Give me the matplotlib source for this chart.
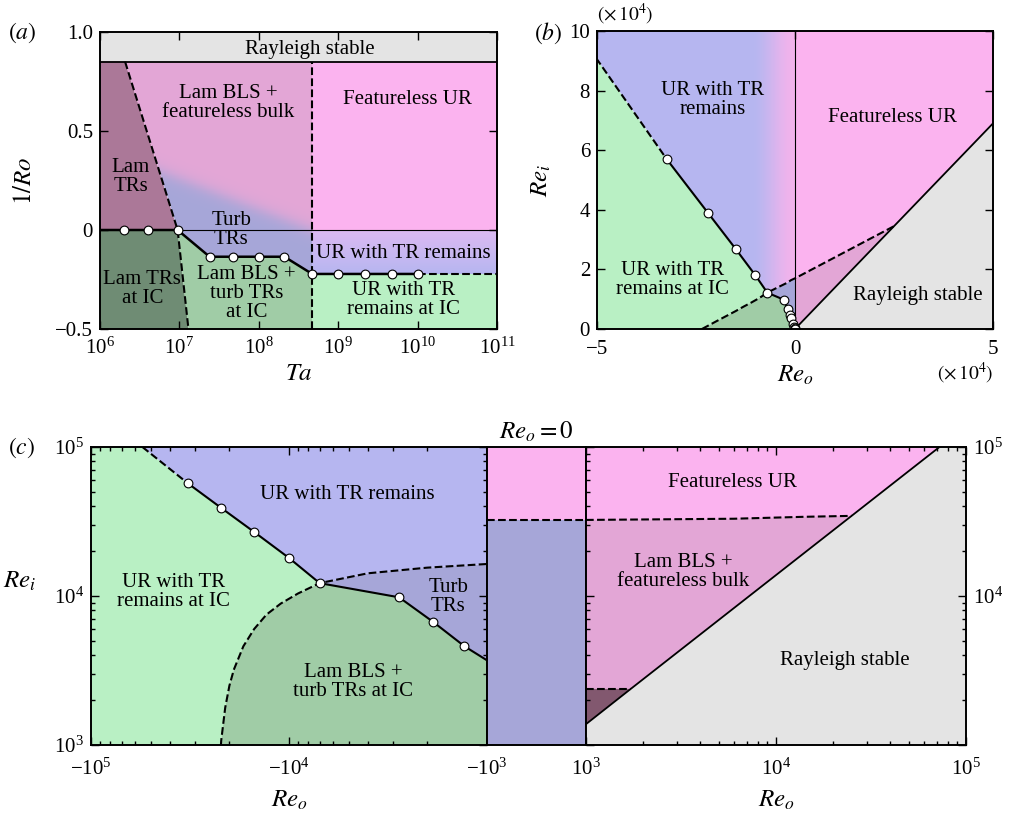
import numpy as np
import matplotlib
matplotlib.use('Agg')
import matplotlib.pyplot as plt
from matplotlib.patches import Polygon
from matplotlib.colors import LinearSegmentedColormap
from matplotlib.ticker import FuncFormatter, NullFormatter, NullLocator, FixedLocator

plt.rcParams['font.family'] = 'serif'
plt.rcParams['font.serif'] = ['Liberation Serif', 'DejaVu Serif']
plt.rcParams['mathtext.fontset'] = 'stix'

# region colours
c_gray = '#e4e4e4'
c_lamtr = '#ab7898'
c_lamtr_c = '#82586f'
c_blsbulk = '#e3a6d6'
c_feat = '#fbb3ef'
c_turb = '#a6a6d8'
c_ur = '#b6b6f0'
c_ur_top = '#dcb9f2'
c_uric = '#b9f0c4'
c_blsic = '#a0cca6'
c_lamic = '#6f8c74'

# ---- (a) Ta vs 1/Ro
ta_lim = [1e6, 1e11]
ro_lim = [-0.5, 1.0]
ro_rayleigh = 0.85
ta_ur = 4.7e8
lam_ta = [2.07e6, 9.5e6, 1.3e7]
lam_ro = [0.85, 0.0, -0.5]
soft_ta = [5.5e6, 4.7e8]      # blurred edge turb TRs / lam BLS
soft_ro = [0.30, 0.0]
ic_ta = [1e6, 2e6, 4e6, 9.5e6, 2.4e7, 4.7e7, 1e8, 2.1e8, 4.7e8, 1e9, 2.2e9, 4.7e9, 1e10]
ic_ro = [0, 0, 0, 0, -0.135, -0.135, -0.135, -0.135, -0.222, -0.222, -0.222, -0.222, -0.222]

# ---- (b), (c) Re_o vs Re_i
b_lim_o = [-5e4, 5e4]
b_lim_i = [0, 1e5]
c_lim = [1e3, 1e5]
tr_re_o = [-5.5e4, -3.24e4, -2.2e4, -1.5e4, -1.0e4, -7.0e3, -2.78e3, -1.87e3, -1.3e3, -1.0e3, -5e2, -2.5e2, -1e2, 0]
tr_re_i = [1.0e5, 5.7e4, 3.9e4, 2.69e4, 1.8e4, 1.22e4, 9.8e3, 6.7e3, 4.6e3, 3.7e3, 1.7e3, 8e2, 3e2, 0]
bls_re_o = [-2.35e4, -2.28e4, -2.2e4, -2.1e4, -2.0e4, -1.9e4, -1.7e4, -1.5e4, -1.3e4, -1.1e4, -9e3, -7e3, -4e3, -2e3, -1e3, 0, 2.5e4]
bls_re_i = [0, 5e2, 1.07e3, 1.78e3, 2.5e3, 3.2e3, 4.6e3, 6.0e3, 7.5e3, 8.9e3, 1.04e4, 1.22e4, 1.42e4, 1.55e4, 1.64e4, 1.7e4, 3.45e4]
ray_re_o = [0, 1e3, 1.72e3, 2.5e4, 5e4, 7.25e4]
ray_re_i = [0, 1.38e3, 2.38e3, 3.45e4, 6.9e4, 1e5]
fb_re_o = [-1e3, 1e3, 6e3, 1.4e4, 2.5e4]
fb_re_i = [3.24e4, 3.24e4, 3.3e4, 3.4e4, 3.45e4]
lt_re_o = [1e3, 1.72e3]
lt_re_i = [2.38e3, 2.38e3]

i_tr = tr_re_o.index(-7e3)
i_trc = tr_re_o.index(-1e3)
i_bls = bls_re_o.index(-7e3)
i_blc = bls_re_o.index(-1e3)
i_bl0 = bls_re_o.index(0)

FS = 15
LW = 1.5
W, H = 1023, 815
fig = plt.figure(figsize=(W / 100, H / 100), dpi=100)


def box(l, t, r, b):
    return [l / W, 1 - b / H, (r - l) / W, (b - t) / H]


def style(ax, xpad=5):
    ax.tick_params(which='both', direction='in', top=True, right=True, width=1, labelsize=FS, pad=5)
    ax.tick_params(axis='x', which='both', pad=xpad)
    ax.tick_params(which='major', length=6)
    ax.tick_params(which='minor', length=3)
    for s in ax.spines.values():
        s.set_linewidth(1.4)
        s.set_zorder(6)


def fill(ax, xs, ys, c):
    ax.fill(xs, ys, facecolor=c, edgecolor='none', lw=0, zorder=1)


def grad(ax, xs, ys, gx, gy, t, c0, c1):
    cmap = LinearSegmentedColormap.from_list('g', [c0, c1])
    m = ax.pcolormesh(gx, gy, t, cmap=cmap, vmin=0, vmax=1, shading='nearest',
                      zorder=1.5, antialiased=False, lw=0)
    p = Polygon(np.column_stack([xs, ys]), closed=True, transform=ax.transData)
    m.set_clip_path(p)


def label(ax, x, y, s):
    ax.text(x, y, s, ha='center', va='center', fontsize=FS, linespacing=1.0, zorder=7)


def dots(ax, xs, ys):
    ax.plot(xs, ys, 'o', ms=6.3, mfc='white', mec='k', mew=0.8, zorder=5, clip_on=True)


# ================= (a)
ax = fig.add_axes(box(100, 32, 497, 329))
ax.set_xscale('log')
fill(ax, [ta_lim[0], ta_lim[1], ta_lim[1], ta_lim[0]], [ro_rayleigh, ro_rayleigh, ro_lim[1], ro_lim[1]], c_gray)
fill(ax, [ta_lim[0], ta_lim[0], lam_ta[0], lam_ta[1]], [0, ro_rayleigh, ro_rayleigh, 0], c_lamtr)
fill(ax, [ta_lim[0]] + lam_ta[1:] + [ta_lim[0]], [0] + lam_ro[1:] + [ro_lim[0]], c_lamic)
fill(ax, ic_ta[3:9] + [ta_ur, lam_ta[2]], ic_ro[3:9] + [ro_lim[0], ro_lim[0]], c_blsic)
fill(ax, [ta_ur, ta_lim[1], ta_lim[1], ta_ur], [ic_ro[-1], ic_ro[-1], ro_lim[0], ro_lim[0]], c_uric)
fill(ax, [ta_ur, ta_lim[1], ta_lim[1], ta_ur], [0, 0, ro_rayleigh, ro_rayleigh], c_feat)

# soft blend between lam BLS + featureless bulk and turb TRs
px_y = 297 / 1.5
gx = np.logspace(6, 8.75, 500)
gy = np.linspace(-0.25, 0.87, 400)
LX, GY = np.meshgrid(np.log10(gx), gy)
sx = np.log10(soft_ta)
yl = soft_ro[0] + (soft_ro[1] - soft_ro[0]) * (LX - sx[0]) / (sx[1] - sx[0])
d = (GY - yl) * px_y * 0.93
t = 1 / (1 + np.exp(d / 4.0))
grad(ax, [lam_ta[0], ta_ur] + ic_ta[8:2:-1], [ro_rayleigh, ro_rayleigh] + ic_ro[8:2:-1],
     gx, gy, t, c_blsbulk, c_turb)
gx2 = np.logspace(8.6, 11.1, 4)
gy2 = np.linspace(-0.25, 0.02, 80)
t2 = np.clip(-gy2 / -ic_ro[-1], 0, 1)[:, None] * np.ones((1, 4))
grad(ax, [ta_ur, ta_lim[1], ta_lim[1], ta_ur], [0, 0, ic_ro[-1], ic_ro[-1]], gx2, gy2, t2, c_ur_top, c_ur)

ax.plot(ta_lim, [ro_rayleigh] * 2, 'k-', lw=1.3, zorder=3)
ax.plot([ic_ta[3], ta_lim[1]], [0, 0], 'k-', lw=0.8, zorder=3)
ax.plot(lam_ta, lam_ro, 'k--', lw=LW, zorder=3)
ax.plot([ta_ur, ta_ur], [ro_lim[0], ro_rayleigh], 'k--', lw=LW, zorder=3)
ax.plot([ic_ta[-1], ta_lim[1]], [ic_ro[-1]] * 2, 'k--', lw=LW, zorder=3)
ax.plot(ic_ta, ic_ro, 'k-', lw=LW + 0.3, zorder=4)
dots(ax, ic_ta[1:], ic_ro[1:])

ax.set_xlim(ta_lim)
ax.set_ylim(ro_lim)
style(ax, xpad=6)
ax.xaxis.set_minor_locator(NullLocator())
ax.set_yticks([-0.5, 0, 0.5, 1.0])
ax.set_yticklabels(['\u22120.5', '0', '0.5', '1.0'])
ax.set_xlabel(r'$Ta$', fontsize=18, labelpad=3)
ax.set_ylabel(r'$1/Ro$', fontsize=18, labelpad=14)

label(ax, 4.4e8, 0.91, 'Rayleigh stable')
label(ax, 4.1e7, 0.64, 'Lam BLS +\nfeatureless bulk')
label(ax, 7.4e9, 0.66, 'Featureless UR')
label(ax, 2.45e6, 0.27, 'Lam\nTRs')
label(ax, 4.5e7, 0.0, 'Turb\nTRs')
label(ax, 6.6e9, -0.12, 'UR with TR remains')
label(ax, 6.6e9, -0.355, 'UR with TR\nremains at IC')
label(ax, 7.0e7, -0.32, 'Lam BLS +\nturb TRs\nat IC')
label(ax, 3.4e6, -0.30, 'Lam TRs\nat IC')

# ================= (b)
ax = fig.add_axes(box(597, 31, 993, 329))
tro, tri, bo, bi = tr_re_o, tr_re_i, bls_re_o, bls_re_i
fill(ax, [tro[0]] + tro[:i_tr + 1] + bo[i_bls - 1::-1], [0] + tri[:i_tr + 1] + bi[i_bls - 1::-1], c_uric)
fill(ax, bo[:i_bls + 1] + tro[i_tr + 1:], bi[:i_bls + 1] + tri[i_tr + 1:], c_blsic)
fill(ax, bo[i_bls:i_bl0 + 1] + tro[:i_tr:-1], bi[i_bls:i_bl0 + 1] + tri[:i_tr:-1], c_turb)
gxb = np.linspace(-5.6e4, 0, 400)
gyb = np.array([0, 1e5])
s = np.clip((gxb + 1.1e4) / 1.1e4, 0, 1)
s = s * s * (3 - 2 * s)
grad(ax, tro[:i_tr + 1] + bo[i_bls + 1:i_bl0 + 1] + [0], tri[:i_tr + 1] + bi[i_bls + 1:i_bl0 + 1] + [b_lim_i[1]],
     gxb, gyb, np.vstack([s, s]), c_ur, '#f2b3ec')
fill(ax, ray_re_o + [ray_re_o[-1]], ray_re_i + [0], c_gray)
fill(ax, ray_re_o + [0], ray_re_i + [b_lim_i[1]], c_feat)
fill(ax, [0, 0, bo[-1]], [0, bi[i_bl0], bi[-1]], c_blsbulk)

ax.axvline(0, color='k', lw=0.8, zorder=3)
ax.plot(ray_re_o, ray_re_i, 'k-', lw=1.3, zorder=3)
ax.plot(bo, bi, 'k--', lw=LW, zorder=3)
ax.plot(tro[:2], tri[:2], 'k--', lw=LW, zorder=3)
ax.plot(tro[1:], tri[1:], 'k-', lw=LW, zorder=4)
dots(ax, tro[1:], tri[1:])

ax.set_xlim(b_lim_o)
ax.set_ylim(b_lim_i)
style(ax, xpad=8)
ax.set_xticks([-5e4, 0, 5e4])
ax.set_xticklabels(['\u22125', '0', '5'])
ax.set_yticks(np.arange(0, 1.01e5, 2e4))
ax.set_yticklabels(['0', '2', '4', '6', '8', '10'])
ax.set_xlabel(r'$Re_o$', fontsize=18, labelpad=3)
ax.set_ylabel(r'$Re_i$', fontsize=18, labelpad=12)
ax.text(0.0, 1.012, r'$(\times\,10^4)$', transform=ax.transAxes, ha='left', va='bottom', fontsize=14)
ax.text(1.0, -0.15, r'$(\times\,10^4)$', transform=ax.transAxes, ha='right', va='center', fontsize=14)

label(ax, -2.07e4, 7.7e4, 'UR with TR\nremains')
label(ax, 2.45e4, 7.1e4, 'Featureless UR')
label(ax, -3.1e4, 1.64e4, 'UR with TR\nremains at IC')
label(ax, 3.1e4, 1.14e4, 'Rayleigh stable')

# ================= (c) left: negative Re_o, plotted as |Re_o| on a reversed log axis
ax = fig.add_axes(box(91, 447, 487, 745))
ax.set_xscale('log')
ax.set_yscale('log')
no = [-v for v in tro[:-1]]
nb = [-v for v in bo[:i_bl0]]
ti, bli = tri[:-1], bi[:i_bl0]
fill(ax, [c_lim[1], c_lim[1]] + no[:i_tr + 1] + nb[i_bls - 1:0:-1],
     [c_lim[0], c_lim[1]] + ti[:i_tr + 1] + bli[i_bls - 1:0:-1], c_uric)
fill(ax, nb[1:i_bls + 1] + no[i_tr + 1:i_trc + 1] + [c_lim[0]],
     bli[1:i_bls + 1] + ti[i_tr + 1:i_trc + 1] + [c_lim[0]], c_blsic)
fill(ax, nb[i_bls:i_blc + 1] + no[i_trc:i_tr:-1], bli[i_bls:i_blc + 1] + ti[i_trc:i_tr:-1], c_turb)
fill(ax, no[:i_tr + 1] + nb[i_bls + 1:i_blc + 1] + [c_lim[0]],
     ti[:i_tr + 1] + bli[i_bls + 1:i_blc + 1] + [c_lim[1]], c_ur)
ax.plot(nb[1:i_blc + 1], bli[1:i_blc + 1], 'k--', lw=LW, zorder=3)
ax.plot(no[:2], ti[:2], 'k--', lw=LW, zorder=3)
ax.plot(no[1:i_trc + 1], ti[1:i_trc + 1], 'k-', lw=LW, zorder=4)
dots(ax, no[1:i_trc], ti[1:i_trc])
ax.set_xlim(c_lim[1], c_lim[0])
ax.set_ylim(c_lim)
style(ax, xpad=10)
ax.xaxis.set_major_formatter(FuncFormatter(lambda v, p: r'$\mathdefault{-10^{%d}}$' % int(round(np.log10(v)))))
ax.xaxis.set_minor_formatter(NullFormatter())
ax.yaxis.set_minor_formatter(NullFormatter())
ax.set_xlabel(r'$Re_o$', fontsize=18, labelpad=6)
ax.set_ylabel(r'$Re_i$', fontsize=18, rotation=0)
ax.yaxis.set_label_coords(-0.18, 0.51)
label(ax, 5.1e3, 4.77e4, 'UR with TR remains')
label(ax, 3.85e4, 1.06e4, 'UR with TR\nremains at IC')
label(ax, 1.57e3, 9.8e3, 'Turb\nTRs')
label(ax, 4.75e3, 2.65e3, 'Lam BLS +\nturb TRs at IC')

# ================= (c) middle: Re_o = 0 strip
ax = fig.add_axes(box(487, 447, 586, 745))
ax.set_yscale('log')
ax.fill_between(fb_re_o[:2], fb_re_i[:2], c_lim[1], color=c_feat, lw=0, zorder=1)
ax.fill_between(fb_re_o[:2], c_lim[0], fb_re_i[:2], color=c_turb, lw=0, zorder=1)
ax.plot(fb_re_o[:2], fb_re_i[:2], 'k--', lw=LW, zorder=3)
ax.set_xlim(fb_re_o[0], fb_re_o[1])
ax.set_ylim(c_lim)
for sp in ax.spines.values():
    sp.set_linewidth(1.4)
ax.tick_params(which='both', length=0, labelleft=False, labelbottom=False)
ax.set_title(r'$Re_o = 0$', fontsize=18, pad=6)

# ================= (c) right: positive Re_o
ax = fig.add_axes(box(586, 447, 966, 745))
ax.set_xscale('log')
ax.set_yscale('log')
fill(ax, ray_re_o[1:] + [c_lim[1], c_lim[1], c_lim[0]], ray_re_i[1:] + [c_lim[1], c_lim[0], c_lim[0]], c_gray)
fill(ax, ray_re_o[1:] + [c_lim[0]], ray_re_i[1:] + [c_lim[1]], c_feat)
fill(ax, lt_re_o + ray_re_o[3:4] + fb_re_o[3:0:-1], lt_re_i + ray_re_i[3:4] + fb_re_i[3:0:-1], c_blsbulk)
fill(ax, ray_re_o[1:3] + [lt_re_o[0]], ray_re_i[1:3] + [lt_re_i[0]], c_lamtr_c)
ax.plot(ray_re_o[1:], ray_re_i[1:], 'k-', lw=1.3, zorder=3)
ax.plot(fb_re_o[1:], fb_re_i[1:], 'k--', lw=LW, zorder=3)
ax.plot(lt_re_o, lt_re_i, 'k--', lw=LW, zorder=3)
ax.set_xlim(c_lim)
ax.set_ylim(c_lim)
style(ax, xpad=10)
ax.tick_params(labelleft=False, labelright=True)
ax.yaxis.set_major_locator(FixedLocator([1e3, 1e4, 1e5]))
ax.yaxis.set_major_formatter(FuncFormatter(lambda v, p: '' if v < 5e3 else r'$\mathdefault{10^{%d}}$' % int(round(np.log10(v)))))
ax.xaxis.set_minor_formatter(NullFormatter())
ax.yaxis.set_minor_formatter(NullFormatter())
ax.set_xlabel(r'$Re_o$', fontsize=18, labelpad=6)
label(ax, 5.9e3, 5.8e4, 'Featureless UR')
label(ax, 3.24e3, 1.45e4, 'Lam BLS +\nfeatureless bulk')
label(ax, 2.3e4, 3.7e3, 'Rayleigh stable')

# panel letters
fig.text(22 / W, 1 - 33 / H, r'$(a)$', fontsize=17, ha='center', va='center')
fig.text(548 / W, 1 - 33 / H, r'$(b)$', fontsize=17, ha='center', va='center')
fig.text(22 / W, 1 - 448 / H, r'$(c)$', fontsize=17, ha='center', va='center')

fig.savefig('out.png', dpi=100)
